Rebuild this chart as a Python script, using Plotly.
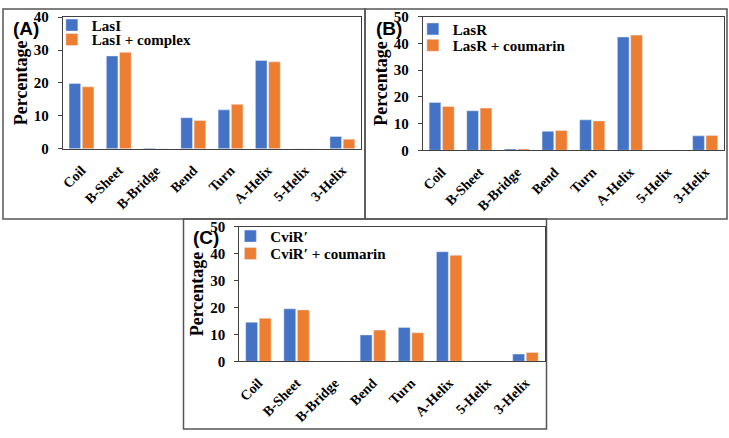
import plotly.graph_objects as go

W, H = 729, 438

categories = ["Coil", "B-Sheet", "B-Bridge", "Bend", "Turn", "A-Helix", "5-Helix", "3-Helix"]

lasI = [19.8, 28.2, 0.2, 9.4, 11.8, 26.8, 0.0, 3.7]
lasI_complex = [18.8, 29.3, 0.0, 8.6, 13.5, 26.4, 0.0, 2.9]

lasR = [17.9, 14.8, 0.5, 7.1, 11.4, 42.4, 0.0, 5.4]
lasR_coumarin = [16.4, 15.8, 0.5, 7.4, 11.0, 43.1, 0.0, 5.5]

cviR = [14.5, 19.5, 0.0, 9.8, 12.6, 40.7, 0.0, 2.7]
cviR_coumarin = [16.0, 19.1, 0.0, 11.6, 10.6, 39.4, 0.0, 3.3]

yticks_A = [0, 10, 20, 30, 40]
yticks_BC = [0, 10, 20, 30, 40, 50]

BLUE = "#4472C4"
ORANGE = "#ED7D31"
SERIF = "Liberation Serif, Times New Roman, serif"
SANS = "Liberation Sans, Arial, sans-serif"

panels = [
    dict(s1=lasI, s2=lasI_complex, n1="LasI", n2="LasI + complex",
         yt=yticks_A, xpx=(61, 360), ypx=(9.5, 146), label="(A)", lab=(24, 21),
         leg=(50, 18, 33)),
    dict(s1=lasR, s2=lasR_coumarin, n1="LasR", n2="LasR + coumarin",
         yt=yticks_BC, xpx=(422, 724), ypx=(9, 147.7), label="(B)", lab=(388, 21),
         leg=(412, 22, 39)),
    dict(s1=cviR, s2=cviR_coumarin, n1="CviR\u2032", n2="CviR\u2032 + coumarin",
         yt=yticks_BC, xpx=(238, 544), ypx=(227, 366.7), label="(C)", lab=(205, 238),
         leg=(229, 237, 255)),
]

fig = go.Figure()
layout = dict(
    width=W, height=H, margin=dict(l=0, r=0, t=0, b=0),
    paper_bgcolor="white", plot_bgcolor="white",
    barmode="group", bargap=0.29, bargroupgap=0.12,
    showlegend=True, annotations=[], shapes=[],
)

legend_font = dict(family=SERIF, size=15, color="black", weight="bold")

for i, p in enumerate(panels):
    sfx = "" if i == 0 else str(i + 1)
    lg1 = "legend" if i == 0 else "legend" + str(2 * i + 1)
    lg2 = "legend" + str(2 * i + 2)
    fig.add_trace(go.Bar(x=categories, y=p["s1"], name=p["n1"], marker_color=BLUE,
                         xaxis="x" + sfx, yaxis="y" + sfx, legend=lg1))
    fig.add_trace(go.Bar(x=categories, y=p["s2"], name=p["n2"], marker_color=ORANGE,
                         xaxis="x" + sfx, yaxis="y" + sfx, legend=lg2))
    x0, x1 = p["xpx"]
    yt, yb = p["ypx"]
    layout["xaxis" + sfx] = dict(
        domain=[x0 / W, x1 / W], anchor="y" + sfx,
        type="category", tickangle=-45,
        tickfont=dict(family=SERIF, size=14, color="black", weight="bold"),
        showline=True, linecolor="#404040", linewidth=1.2, mirror=True,
        ticks="", ticklabelstandoff=7, showgrid=False, zeroline=False, fixedrange=True,
    )
    layout["yaxis" + sfx] = dict(
        domain=[1 - yb / H, 1 - yt / H], anchor="x" + sfx,
        range=[0, p["yt"][-1]], tickvals=p["yt"],
        tickfont=dict(family=SERIF, size=15, color="black", weight="bold"),
        showline=True, linecolor="#404040", linewidth=1.2, mirror=True,
        ticks="outside", ticklen=4, tickcolor="#404040", ticklabelstandoff=6,
        showgrid=False, zeroline=False, fixedrange=True,
        title=dict(text="Percentage", font=dict(family=SERIF, size=18, color="black", weight="bold"),
                   standoff=1),
    )
    lx, ly1, ly2 = p["leg"]
    for lg, ly in ((lg1, ly1), (lg2, ly2)):
        layout[lg] = dict(
            x=lx / W, y=1 - ly / H, xanchor="left", yanchor="middle",
            bgcolor="rgba(0,0,0,0)", borderwidth=0, font=legend_font,
        )
    ax, ay = p["lab"]
    layout["annotations"].append(dict(
        text="<b>" + p["label"] + "</b>", x=ax / W, y=1 - ay / H, xref="paper", yref="paper",
        showarrow=False, xanchor="center", yanchor="middle",
        font=dict(family=SANS, size=19, color="black"),
    ))

# outer frames of the three panels
frames = [(1, 1, 364, 219), (364, 1, 727, 219), (182, 219, 546, 437)]
for (fx0, fy0, fx1, fy1) in frames:
    layout["shapes"].append(dict(
        type="rect", xref="paper", yref="paper",
        x0=fx0 / W, x1=fx1 / W, y0=1 - fy1 / H, y1=1 - fy0 / H,
        line=dict(color="#555555", width=1.5), fillcolor="rgba(0,0,0,0)", layer="below",
    ))

fig.update_layout(**layout)
fig.write_html("out.html", config={"displayModeBar": False},
               post_script="document.body.style.margin='0px';")
